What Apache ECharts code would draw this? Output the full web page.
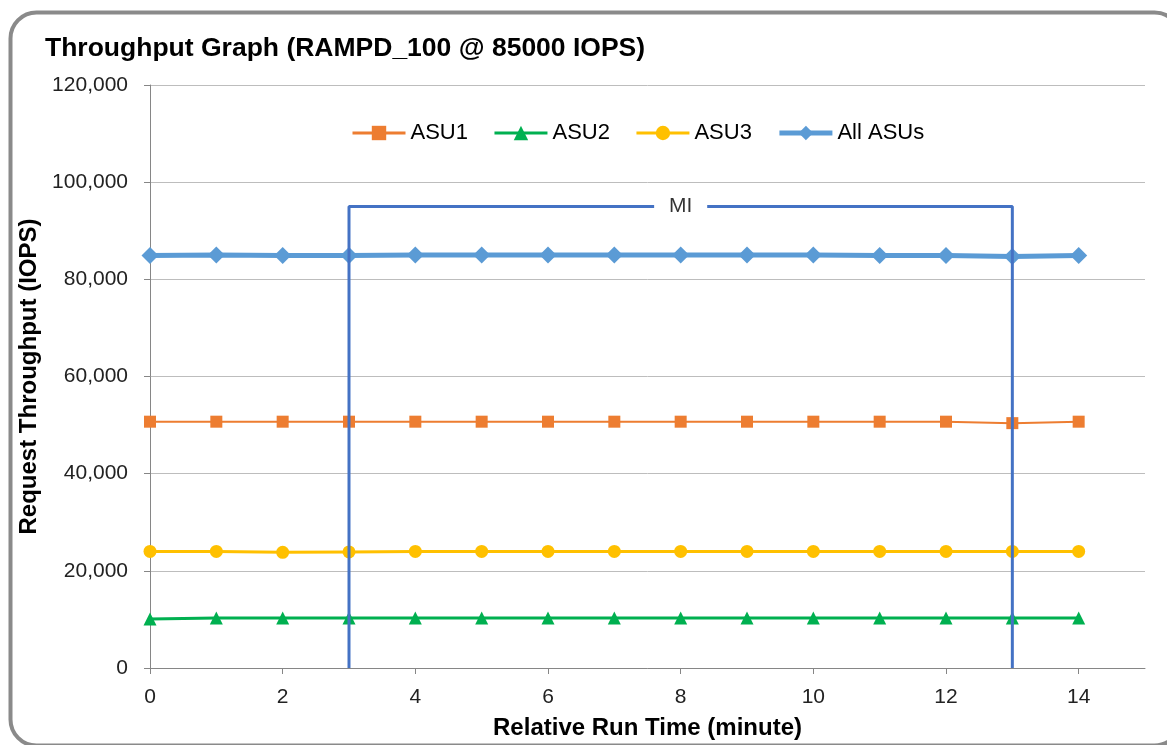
<!DOCTYPE html>
<html>
<head>
<meta charset="utf-8">
<script src="https://cdn.jsdelivr.net/npm/echarts@6/dist/echarts.min.js"></script>
<style>
html,body{margin:0;padding:0;background:#fff;}
#chart{width:1167px;height:745px;}
</style>
</head>
<body>
<div id="chart"></div>
<script>
const minutes = [0,1,2,3,4,5,6,7,8,9,10,11,12,13,14];
const asu1 = [50700,50700,50700,50700,50700,50700,50700,50700,50700,50700,50700,50700,50700,50400,50700];
const asu2 = [10100,10300,10300,10300,10300,10300,10300,10300,10300,10300,10300,10300,10300,10300,10300];
const asu3 = [24000,24000,23800,23900,24000,24000,24000,24000,24000,24000,24000,24000,24000,24000,24000];
const allAsus = [84900,85000,84900,84900,85000,85000,85000,85000,85000,85000,85000,84900,84900,84700,84900];
const xTicks = [0,2,4,6,8,10,12,14];
const yTicks = [0,20000,40000,60000,80000,100000,120000];
const miStart = 3, miEnd = 13, miLevel = 95000, miGapFrom = 7.6, miGapTo = 8.4, miLabelX = 8;

const pairs = arr => minutes.map((m,i)=>[m,arr[i]]);
const font = '"Liberation Sans", Arial, sans-serif';
const chart = echarts.init(document.getElementById('chart'), null, {renderer:'canvas'});
chart.setOption({
  animation:false,
  backgroundColor:'#fff',
  graphic:[{type:'rect',left:8,top:10,shape:{width:1170,height:733,r:26},style:{fill:'none',stroke:'#8a8a8a',lineWidth:4},z:-1}],
  title:{text:'Throughput Graph (RAMPD_100 @ 85000 IOPS)',left:40,top:30,textStyle:{fontFamily:font,fontWeight:'bold',fontSize:26.5,color:'#000'}},
  legend:{top:117,left:346,itemWidth:53,itemHeight:18,itemGap:25,
    textStyle:{fontFamily:font,fontSize:22,color:'#000'},
    data:[
      {name:'ASU1',lineStyle:{width:3}},
      {name:'ASU2',lineStyle:{width:3}},
      {name:'ASU3',lineStyle:{width:3}},
      {name:'All ASUs',lineStyle:{width:5}}
    ]},
  grid:{left:150,right:22,top:85,bottom:75},
  xAxis:{type:'value',min:0,max:15,
    name:'Relative Run Time (minute)',nameLocation:'middle',nameGap:48,
    nameTextStyle:{fontFamily:font,fontWeight:'bold',fontSize:24,color:'#000'},
    axisLine:{show:true,lineStyle:{color:'#868686',width:1}},
    axisTick:{show:true,length:6,lineStyle:{color:'#868686'},customValues:xTicks},
    splitLine:{show:false},
    axisLabel:{fontFamily:font,fontSize:21,color:'#222',margin:19,customValues:xTicks}},
  yAxis:{type:'value',min:yTicks[0],max:yTicks[yTicks.length-1],interval:20000,
    name:'Request Throughput (IOPS)',nameLocation:'middle',nameGap:106,
    nameTextStyle:{fontFamily:font,fontWeight:'bold',fontSize:24,color:'#000'},
    axisLine:{show:true,lineStyle:{color:'#868686',width:1}},
    axisTick:{show:true,length:6,lineStyle:{color:'#868686'}},
    splitLine:{lineStyle:{color:'#bdbdbd',width:1}},
    axisLabel:{fontFamily:font,fontSize:21,color:'#222',margin:22,formatter:v=>v.toLocaleString('en-US')}},
  series:[
    {name:'MI',type:'line',data:[[miStart,0],[miStart,miLevel],[miGapFrom,miLevel]],symbol:'none',
     lineStyle:{color:'#4472C4',width:3},z:5},
    {name:'MI2',type:'line',data:[[miGapTo,miLevel],[miEnd,miLevel],[miEnd,0]],symbol:'none',
     lineStyle:{color:'#4472C4',width:3},z:5},
    {name:'MIlabel',type:'scatter',data:[[miLabelX,miLevel]],symbolSize:0,
     label:{show:true,position:'inside',formatter:'MI',fontFamily:font,fontSize:21,color:'#000'}},
    {name:'ASU1',type:'line',data:pairs(asu1),symbol:'rect',symbolSize:12,
     itemStyle:{color:'#ED7D31'},lineStyle:{color:'#ED7D31',width:2}},
    {name:'ASU2',type:'line',data:pairs(asu2),symbol:'triangle',symbolSize:13,
     itemStyle:{color:'#00B050'},lineStyle:{color:'#00B050',width:3}},
    {name:'ASU3',type:'line',data:pairs(asu3),symbol:'circle',symbolSize:13,
     itemStyle:{color:'#FFC000'},lineStyle:{color:'#FFC000',width:3}},
    {name:'All ASUs',type:'line',data:pairs(allAsus),symbol:'diamond',symbolSize:17,
     itemStyle:{color:'#5B9BD5'},lineStyle:{color:'#5B9BD5',width:5}}
  ]
});
</script>
</body>
</html>
